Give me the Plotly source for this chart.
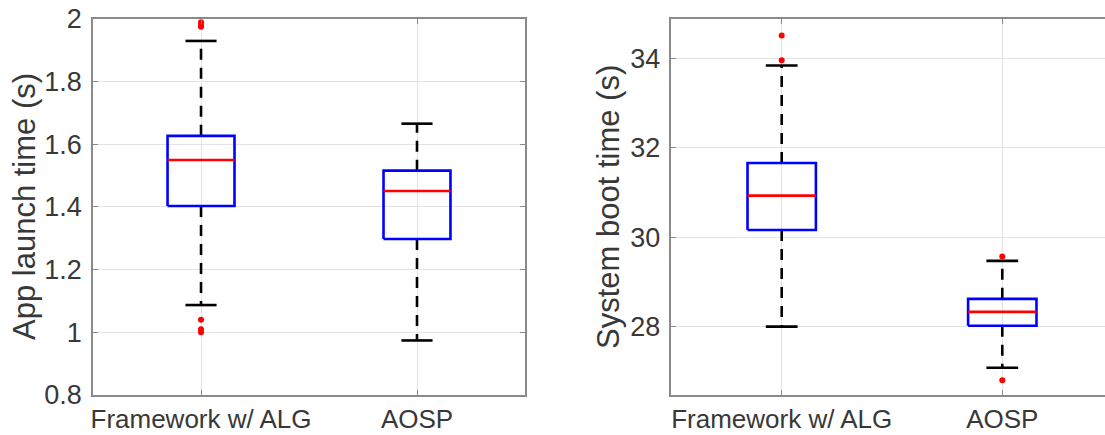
import plotly.graph_objects as go

# ---------------- data ----------------
categories = ["Framework w/ ALG", "AOSP"]

launch_q1 = [1.403, 1.298]
launch_median = [1.550, 1.451]
launch_q3 = [1.627, 1.516]
launch_lower = [1.087, 0.974]
launch_upper = [1.930, 1.666]
launch_outliers = [[1.99, 1.98, 1.975, 1.04, 1.01, 1.00], []]

boot_q1 = [30.16, 28.02]
boot_median = [30.93, 28.33]
boot_q3 = [31.66, 28.62]
boot_lower = [28.00, 27.08]
boot_upper = [33.84, 29.47]
boot_outliers = [[34.51, 33.96], [29.57, 26.80]]

launch_ticks = [0.8, 1.0, 1.2, 1.4, 1.6, 1.8, 2.0]
boot_ticks = [28, 30, 32, 34]

# ---------------- style ----------------
BOX_HW = 0.155
CAP_HW = 0.072
FONT = "Liberation Sans, Arial, Helvetica, sans-serif"
TICK_COLOR = "#383838"
AXIS_COLOR = "#8a8a8a"
GRID_COLOR = "#e3e3e3"

fig = go.Figure()


def add_boxes(q1, med, q3, lo, hi, outl, xref, yref):
    bx, by, mx, my, wx, wy, cx, cy, ox, oy = [], [], [], [], [], [], [], [], [], []
    for i in range(len(categories)):
        p = i + 1
        bx += [p - BOX_HW, p + BOX_HW, p + BOX_HW, p - BOX_HW, p - BOX_HW, None]
        by += [q1[i], q1[i], q3[i], q3[i], q1[i], None]
        mx += [p - BOX_HW, p + BOX_HW, None]
        my += [med[i], med[i], None]
        wx += [p, p, None, p, p, None]
        wy += [q3[i], hi[i], None, q1[i], lo[i], None]
        cx += [p - CAP_HW, p + CAP_HW, None, p - CAP_HW, p + CAP_HW, None]
        cy += [hi[i], hi[i], None, lo[i], lo[i], None]
        ox += [p] * len(outl[i])
        oy += list(outl[i])
    common = dict(xaxis=xref, yaxis=yref, showlegend=False, hoverinfo="skip")
    fig.add_trace(go.Scatter(x=wx, y=wy, mode="lines",
                             line=dict(color="black", width=2.6, dash="11px,8px"), **common))
    fig.add_trace(go.Scatter(x=cx, y=cy, mode="lines",
                             line=dict(color="black", width=2.6), **common))
    fig.add_trace(go.Scatter(x=bx, y=by, mode="lines",
                             line=dict(color="#0000ff", width=2.6), **common))
    fig.add_trace(go.Scatter(x=mx, y=my, mode="lines",
                             line=dict(color="#ff0000", width=2.6), **common))
    fig.add_trace(go.Scatter(x=ox, y=oy, mode="markers",
                             marker=dict(color="#ff0000", size=6), **common))


add_boxes(launch_q1, launch_median, launch_q3, launch_lower, launch_upper,
          launch_outliers, "x", "y")
add_boxes(boot_q1, boot_median, boot_q3, boot_lower, boot_upper,
          boot_outliers, "x2", "y2")

ydom = [0.0920, 0.9563]
xaxis_common = dict(
    tickvals=[1, 2], ticktext=categories, ticks="inside", ticklen=5,
    tickcolor=AXIS_COLOR, showline=True, linecolor=AXIS_COLOR, linewidth=1.5,
    mirror="allticks", showgrid=True, gridcolor=GRID_COLOR, gridwidth=1,
    zeroline=False, tickfont=dict(family=FONT, size=26, color=TICK_COLOR),
    ticklabelstandoff=0, fixedrange=True, automargin=False,
)
yaxis_common = dict(
    ticks="inside", ticklen=5, tickcolor=AXIS_COLOR, showline=True,
    linecolor=AXIS_COLOR, linewidth=1.5, showgrid=True, gridcolor=GRID_COLOR,
    gridwidth=1, zeroline=False, domain=ydom,
    tickfont=dict(family=FONT, size=27, color=TICK_COLOR),
    ticklabelstandoff=4, fixedrange=True, automargin=False,
)

fig.update_layout(
    width=1105, height=435,
    margin=dict(l=0, r=0, t=0, b=0, autoexpand=False),
    paper_bgcolor="white", plot_bgcolor="white",
    xaxis=dict(domain=[0.0842, 0.4751], range=[0.5, 2.5], anchor="y", **xaxis_common),
    yaxis=dict(range=[0.8, 2.0], tickvals=launch_ticks, mirror="allticks",
               anchor="x", **yaxis_common),
    xaxis2=dict(domain=[0.6076, 1.0], range=[0.5, 2.4656], anchor="y2", **xaxis_common),
    yaxis2=dict(range=[26.47, 34.88], tickvals=boot_ticks, mirror=False,
                anchor="x2", **yaxis_common),
    annotations=[
        dict(text="App launch time (s)", xref="paper", yref="paper",
             x=24 / 1105, y=1 - 207 / 435, textangle=-90, showarrow=False,
             font=dict(family=FONT, size=31, color=TICK_COLOR),
             xanchor="center", yanchor="middle"),
        dict(text="System boot time (s)", xref="paper", yref="paper",
             x=608 / 1105, y=1 - 207 / 435, textangle=-90, showarrow=False,
             font=dict(family=FONT, size=31, color=TICK_COLOR),
             xanchor="center", yanchor="middle"),
    ],
)

fig.write_html("out.html")
